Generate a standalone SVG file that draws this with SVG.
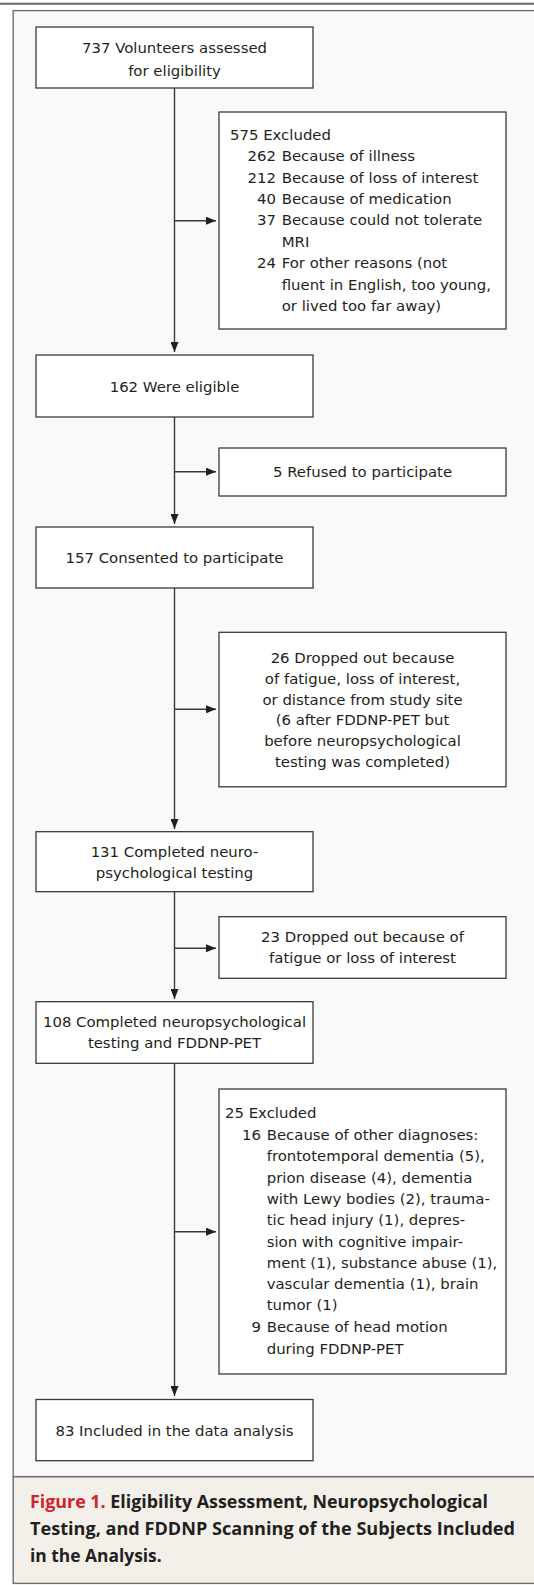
<svg xmlns="http://www.w3.org/2000/svg" width="534" height="1585" viewBox="0 0 534 1585">
<style>
.box{fill:#fff;stroke:#3a3a3a;stroke-width:1.3}
.t{font-family:"DejaVu Sans","Liberation Sans",sans-serif;font-size:14.9px;fill:#231f20}
.c{text-anchor:middle}
.e{text-anchor:end}
.conn{stroke:#3a3a3a;stroke-width:1.4;fill:none}
.cap{font-family:"Open Sans","DejaVu Sans",sans-serif;font-weight:700;font-size:17px;fill:#231f20}
</style>
<defs>
<marker id="ah" viewBox="0 0 10 8" refX="10" refY="4" markerWidth="10" markerHeight="8" markerUnits="userSpaceOnUse" orient="auto">
<path d="M0,0 L10,4 L0,8 Z" fill="#231f20"/>
</marker>
</defs>
<rect x="0" y="0" width="534" height="1585" fill="#fff"/>
<line x1="0" y1="3.7" x2="534" y2="3.7" stroke="#666" stroke-width="2"/>
<rect x="13.2" y="10.6" width="530" height="1466" fill="#f9f9f9" stroke="#6e6e6e" stroke-width="1.4"/>
<rect x="13.2" y="1476.8" width="530" height="106.6" fill="#f3f0ea" stroke="#6e6e6e" stroke-width="1.4"/>

<g id="connectors">
<line class="conn" x1="174.5" y1="88" x2="174.5" y2="352" marker-end="url(#ah)"/>
<line class="conn" x1="174.5" y1="220.7" x2="216" y2="220.7" marker-end="url(#ah)"/>
<line class="conn" x1="174.5" y1="417" x2="174.5" y2="524" marker-end="url(#ah)"/>
<line class="conn" x1="174.5" y1="471.7" x2="216" y2="471.7" marker-end="url(#ah)"/>
<line class="conn" x1="174.5" y1="588" x2="174.5" y2="829" marker-end="url(#ah)"/>
<line class="conn" x1="174.5" y1="709.3" x2="216" y2="709.3" marker-end="url(#ah)"/>
<line class="conn" x1="174.5" y1="892" x2="174.5" y2="999" marker-end="url(#ah)"/>
<line class="conn" x1="174.5" y1="948.3" x2="216" y2="948.3" marker-end="url(#ah)"/>
<line class="conn" x1="174.5" y1="1063" x2="174.5" y2="1396" marker-end="url(#ah)"/>
<line class="conn" x1="174.5" y1="1231.7" x2="216" y2="1231.7" marker-end="url(#ah)"/>
</g>

<g id="n737">
<rect class="box" x="36" y="27" width="277" height="61"/>
<text class="t c" x="174.5" y="53.3">737 Volunteers assessed</text>
<text class="t c" x="174.5" y="75.5">for eligibility</text>
</g>

<g id="n575">
<rect class="box" x="219" y="112" width="287" height="217"/>
<text class="t" x="230" y="140">575 Excluded</text>
<text class="t e" x="276" y="161.3">262</text><text class="t" x="281.7" y="161.3">Because of illness</text>
<text class="t e" x="276" y="182.6">212</text><text class="t" x="281.7" y="182.6">Because of loss of interest</text>
<text class="t e" x="276" y="204">40</text><text class="t" x="281.7" y="204">Because of medication</text>
<text class="t e" x="276" y="225.3">37</text><text class="t" x="281.7" y="225.3">Because could not tolerate</text>
<text class="t" x="281.7" y="246.7">MRI</text>
<text class="t e" x="276" y="268.2">24</text><text class="t" x="281.7" y="268.2">For other reasons (not</text>
<text class="t" x="281.7" y="289.8">fluent in English, too young,</text>
<text class="t" x="281.7" y="311.4">or lived too far away)</text>
</g>

<g id="n162">
<rect class="box" x="36" y="355" width="277" height="62"/>
<text class="t c" x="174.5" y="392.3">162 Were eligible</text>
</g>

<g id="n5">
<rect class="box" x="219" y="448" width="287" height="48"/>
<text class="t c" x="362.5" y="477">5 Refused to participate</text>
</g>

<g id="n157">
<rect class="box" x="36" y="527" width="277" height="61"/>
<text class="t c" x="174.5" y="563">157 Consented to participate</text>
</g>

<g id="n26">
<rect class="box" x="219" y="632.3" width="287" height="154.5"/>
<text class="t c" x="362.5" y="663.3">26 Dropped out because</text>
<text class="t c" x="362.5" y="684">of fatigue, loss of interest,</text>
<text class="t c" x="362.5" y="704.7">or distance from study site</text>
<text class="t c" x="362.5" y="725.4">(6 after FDDNP-PET but</text>
<text class="t c" x="362.5" y="746.1">before neuropsychological</text>
<text class="t c" x="362.5" y="766.8">testing was completed)</text>
</g>

<g id="n131">
<rect class="box" x="36" y="831.7" width="277" height="60"/>
<text class="t c" x="174.5" y="856.7">131 Completed neuro-</text>
<text class="t c" x="174.5" y="878.3">psychological testing</text>
</g>

<g id="n23">
<rect class="box" x="219" y="916.7" width="287" height="61.6"/>
<text class="t c" x="362.5" y="941.7">23 Dropped out because of</text>
<text class="t c" x="362.5" y="963.3">fatigue or loss of interest</text>
</g>

<g id="n108">
<rect class="box" x="36" y="1001.7" width="277" height="61.6"/>
<text class="t c" x="174.5" y="1026.7">108 Completed neuropsychological</text>
<text class="t c" x="174.5" y="1048.3">testing and FDDNP-PET</text>
</g>

<g id="n25">
<rect class="box" x="219" y="1089" width="287" height="285"/>
<text class="t" x="225" y="1118.3">25 Excluded</text>
<text class="t e" x="261" y="1140">16</text><text class="t" x="266.7" y="1140">Because of other diagnoses:</text>
<text class="t" x="266.7" y="1161.3">frontotemporal dementia (5),</text>
<text class="t" x="266.7" y="1182.6">prion disease (4), dementia</text>
<text class="t" x="266.7" y="1203.9">with Lewy bodies (2), trauma-</text>
<text class="t" x="266.7" y="1225.2">tic head injury (1), depres-</text>
<text class="t" x="266.7" y="1246.5">sion with cognitive impair-</text>
<text class="t" x="266.7" y="1267.8">ment (1), substance abuse (1),</text>
<text class="t" x="266.7" y="1289.1">vascular dementia (1), brain</text>
<text class="t" x="266.7" y="1310.4">tumor (1)</text>
<text class="t e" x="261" y="1332.4">9</text><text class="t" x="266.7" y="1332.4">Because of head motion</text>
<text class="t" x="266.7" y="1353.8">during FDDNP-PET</text>
</g>

<g id="n83">
<rect class="box" x="36" y="1399.5" width="277" height="61.2"/>
<text class="t c" x="174.5" y="1435.5">83 Included in the data analysis</text>
</g>

<g id="caption">
<text class="cap" x="30" y="1508.3" textLength="458" lengthAdjust="spacingAndGlyphs"><tspan fill="#d2232a">Figure 1.</tspan> Eligibility Assessment, Neuropsychological</text>
<text class="cap" x="30" y="1535" textLength="485" lengthAdjust="spacingAndGlyphs">Testing, and FDDNP Scanning of the Subjects Included</text>
<text class="cap" x="30" y="1561.7" textLength="131.7" lengthAdjust="spacingAndGlyphs">in the Analysis.</text>
</g>
</svg>
